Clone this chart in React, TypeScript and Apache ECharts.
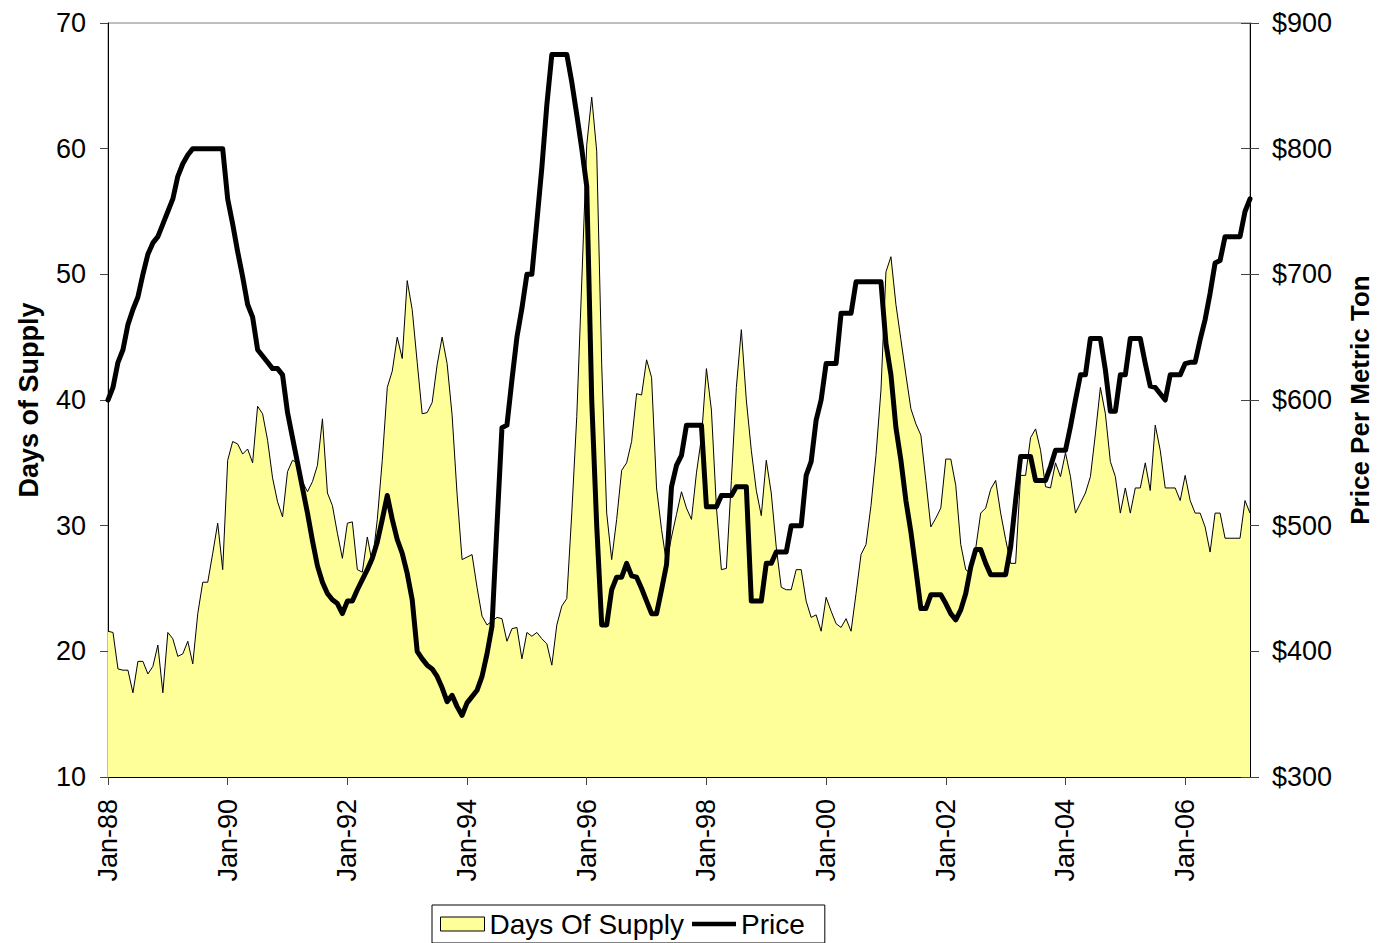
import React, { useEffect, useRef } from "react";
import * as echarts from "echarts";

// Monthly series, Jan-88 .. Feb-07
const startYear = 1988;
const monthNames = ["Jan", "Feb", "Mar", "Apr", "May", "Jun", "Jul", "Aug", "Sep", "Oct", "Nov", "Dec"];

const daysOfSupply: number[] = [
  21.6, 21.5, 18.6, 18.5, 18.5, 16.7, 19.2, 19.2, 18.2, 18.8,
  20.5, 16.7, 21.5, 21.0, 19.6, 19.8, 20.8, 19.0, 23.0, 25.5,
  25.5, 27.8, 30.2, 26.5, 35.2, 36.7, 36.5, 35.7, 36.1, 35.0,
  39.5, 38.9, 36.8, 33.8, 31.9, 30.7, 34.3, 35.2, 35.0, 33.5,
  32.7, 33.5, 34.8, 38.5, 32.6, 31.6, 29.4, 27.4, 30.2, 30.3,
  26.5, 26.3, 29.1, 27.0, 30.5, 35.2, 41.0, 42.3, 45.0, 43.3,
  49.5, 47.2, 43.0, 38.9, 39.0, 39.8, 42.8, 45.0, 42.9, 38.8,
  32.5, 27.3, 27.5, 27.7, 25.1, 22.8, 22.1, 22.4, 22.7, 22.6,
  20.8, 21.8, 21.9, 19.4, 21.5, 21.2, 21.5, 21.0, 20.6, 18.9,
  22.1, 23.6, 24.2, 31.0, 38.7, 49.4, 60.3, 64.1, 59.8, 42.8,
  31.0, 27.3, 30.5, 34.4, 35.0, 36.7, 40.5, 40.4, 43.2, 41.8,
  33.0, 29.7, 27.0, 29.1, 30.9, 32.7, 31.4, 30.5, 34.2, 37.0,
  42.5, 39.2, 31.5, 26.5, 26.6, 33.6, 41.0, 45.6, 40.0, 36.0,
  32.8, 30.8, 35.2, 32.6, 28.3, 25.1, 24.9, 24.9, 26.5, 26.5,
  24.0, 22.7, 22.9, 21.6, 24.3, 23.2, 22.2, 21.9, 22.6, 21.6,
  24.6, 27.7, 28.5, 31.6, 35.6, 40.8, 50.2, 51.4, 47.6, 44.8,
  42.0, 39.3, 38.1, 37.2, 33.6, 29.9, 30.6, 31.4, 35.3, 35.3,
  33.2, 28.5, 26.5, 26.2, 28.2, 31.0, 31.4, 32.9, 33.6, 31.0,
  28.9, 27.0, 27.0, 34.0, 34.0, 37.0, 37.7, 36.0, 33.1, 33.0,
  35.0, 33.9, 35.8, 33.9, 31.0, 31.8, 32.6, 33.9, 37.3, 41.0,
  38.9, 35.1, 33.9, 31.0, 33.0, 31.0, 33.0, 33.0, 35.0, 32.8,
  38.0, 36.0, 33.0, 33.0, 33.0, 32.0, 34.0, 32.0, 31.0, 31.0,
  29.9, 27.9, 31.0, 31.0, 29.0, 29.0, 29.0, 29.0, 32.0, 31.0,
];

const price: number[] = [
  600, 610, 630, 640, 660, 672, 682, 700, 716, 725,
  730, 740, 750, 760, 778, 788, 795, 800, 800, 800,
  800, 800, 800, 800, 760, 740, 718, 698, 676, 666,
  640, 635, 630, 625, 625, 620, 590, 570, 550, 530,
  510, 488, 468, 455, 446, 441, 438, 430, 440, 440,
  449, 457, 465, 474, 487, 505, 524, 505, 489, 478,
  462, 441, 400, 394, 389, 386, 380, 371, 360, 365,
  356, 349, 359, 364, 369, 380, 398, 420, 500, 578,
  580, 616, 650, 673, 700, 700, 742, 785, 835, 875,
  875, 875, 875, 853, 827, 800, 770, 600, 500, 421,
  421, 449, 459, 459, 470, 460, 459, 450, 440, 430,
  430, 449, 469, 531, 548, 556, 580, 580, 580, 580,
  515, 515, 515, 524, 524, 524, 531, 531, 531, 440,
  440, 440, 470, 470, 479, 479, 479, 500, 500, 500,
  540, 551, 584, 600, 629, 629, 629, 669, 669, 669,
  694, 694, 694, 694, 694, 694, 645, 620, 578, 552,
  520, 495, 465, 434, 434, 445, 445, 445, 438, 430,
  425, 433, 446, 467, 481, 481, 470, 461, 461, 461,
  461, 483, 520, 555, 555, 555, 536, 536, 536, 547,
  560, 560, 560, 579, 600, 620, 620, 649, 649, 649,
  624, 591, 591, 620, 620, 649, 649, 649, 629, 611,
  610, 605, 600, 620, 620, 620, 629, 630, 630, 648,
  664, 685, 709, 711, 730, 730, 730, 730, 750, 760,
];

const categories: string[] = daysOfSupply.map((_, i) => {
  const y = startYear + Math.floor(i / 12);
  return `${monthNames[i % 12]}-${String(y % 100).padStart(2, "0")}`;
});

const FONT = "'Liberation Sans', Arial, sans-serif";
// thick line swatch filling a 48x14 legend box (tiny corner marks fix the box)
const LINE_ICON =
  "path://M0,0H0.01V0.01H0ZM0,4.5H48V9.5H0ZM47.99,13.99H48V14H47.99Z";

export default function App() {
  const ref = useRef<HTMLDivElement>(null);

  useEffect(() => {
    if (!ref.current) return;
    const chart = echarts.init(ref.current, undefined, { renderer: "svg", width: 1380, height: 943 });
    chart.setOption({
      animation: false,
      backgroundColor: "#ffffff",
      textStyle: { fontFamily: FONT, color: "#000" },
      grid: {
        left: 108,
        right: 130,
        top: 23,
        bottom: 166,
        outerBoundsMode: "none",
        containLabel: false,
        show: true,
        borderColor: "#808080",
        borderWidth: 1,
        backgroundColor: "transparent",
      },
      legend: {
        left: 432,
        top: 905,
        orient: "horizontal",
        padding: [5, 20, 5, 8],
        itemGap: 8,
        itemWidth: 44,
        itemHeight: 14,
        borderColor: "#000",
        borderWidth: 1,
        backgroundColor: "#fff",
        textStyle: { fontFamily: FONT, fontSize: 28, color: "#000" },
        data: [
          {
            name: "Days Of Supply",
            icon: "rect",
            itemStyle: { color: "#FFFF99", borderColor: "#000", borderWidth: 1 },
          },
          {
            name: "Price",
            icon: LINE_ICON,
            itemStyle: { color: "#000", borderWidth: 0 },
          },
        ],
      },
      xAxis: {
        type: "category",
        data: categories,
        boundaryGap: false,
        axisLine: { lineStyle: { color: "#000", width: 1 } },
        axisTick: { interval: 23, length: 8, lineStyle: { color: "#444" } },
        axisLabel: {
          interval: 23,
          rotate: 90,
          margin: 22,
          fontSize: 27,
          fontFamily: FONT,
          color: "#000",
        },
        splitLine: { show: false },
      },
      yAxis: [
        {
          type: "value",
          min: 10,
          max: 70,
          interval: 10,
          position: "left",
          name: "Days of Supply",
          nameLocation: "middle",
          nameRotate: 90,
          nameGap: 66,
          nameTextStyle: { fontFamily: FONT, fontSize: 27, fontWeight: "bold", color: "#000" },
          axisLine: { show: true, lineStyle: { color: "#000", width: 1 } },
          axisTick: { show: true, length: 8, lineStyle: { color: "#444" } },
          axisLabel: { margin: 22, fontSize: 27, fontFamily: FONT, color: "#000" },
          splitLine: { show: false },
        },
        {
          type: "value",
          min: 300,
          max: 900,
          interval: 100,
          position: "right",
          name: "Price Per Metric Ton",
          nameLocation: "middle",
          nameRotate: 90,
          nameGap: 97,
          nameTextStyle: { fontFamily: FONT, fontSize: 26, fontWeight: "bold", color: "#000" },
          axisLine: { show: true, lineStyle: { color: "#000", width: 1 } },
          axisTick: { show: true, length: 9, lineStyle: { color: "#444" } },
          axisLabel: {
            margin: 22,
            fontSize: 27,
            fontFamily: FONT,
            color: "#000",
            formatter: (v: number) => `$${v}`,
          },
          splitLine: { show: false },
        },
        {
          type: "value",
          min: 300,
          max: 900,
          interval: 100,
          position: "right",
          axisLine: { show: false },
          axisTick: { show: true, inside: true, length: 9, lineStyle: { color: "#444" } },
          axisLabel: { show: false },
          splitLine: { show: false },
        },
      ],
      series: [
        {
          name: "Days Of Supply",
          type: "line",
          data: daysOfSupply,
          yAxisIndex: 0,
          symbol: "none",
          showSymbol: false,
          color: "#FFFF99",
          lineStyle: { color: "#000", width: 1 },
          areaStyle: { color: "#FFFF99", opacity: 1, origin: "start" },
          z: 2,
        },
        {
          name: "Price",
          type: "line",
          data: price,
          yAxisIndex: 1,
          symbol: "none",
          showSymbol: false,
          color: "#000",
          lineStyle: { color: "#000", width: 5, join: "round", cap: "round" },
          z: 3,
        },
      ],
    });
    return () => chart.dispose();
  }, []);

  return (
    <div
      ref={ref}
      style={{ position: "fixed", left: 0, top: 0, width: 1380, height: 943, background: "#fff" }}
    />
  );
}
